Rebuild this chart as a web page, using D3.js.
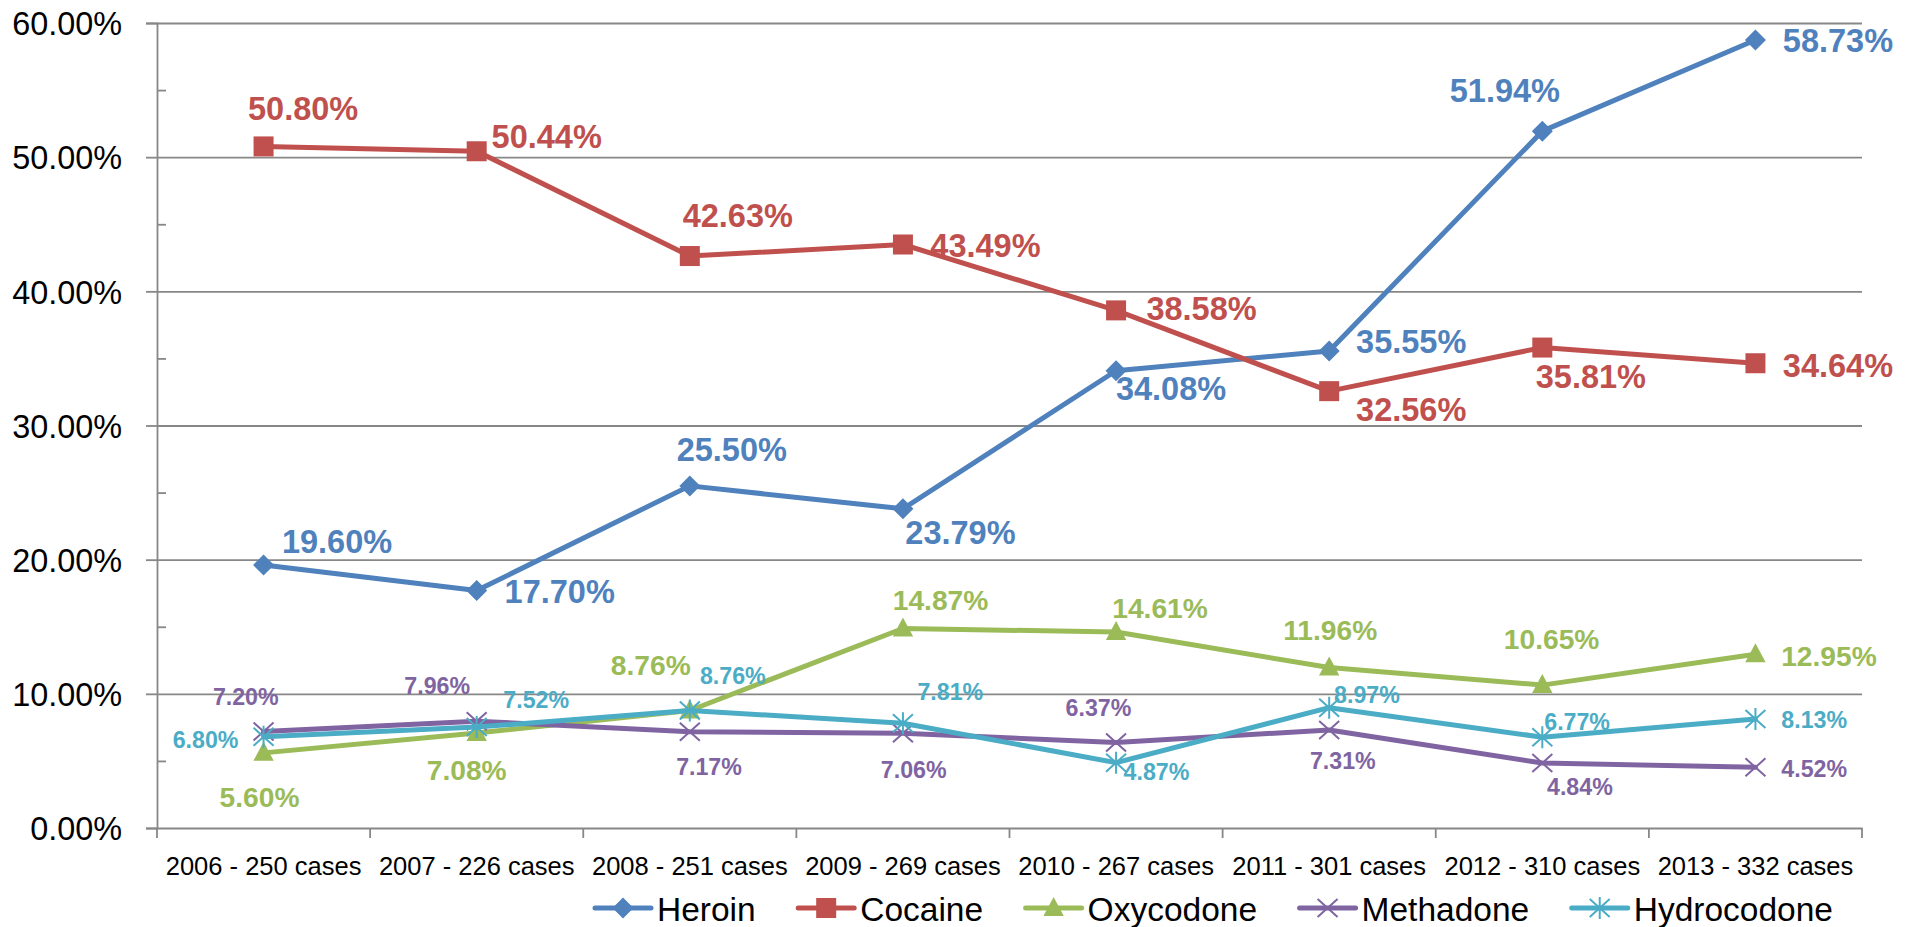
<!DOCTYPE html>
<html>
<head>
<meta charset="utf-8">
<script src="https://cdn.jsdelivr.net/npm/d3@7"></script>
<style>
  html, body { margin: 0; padding: 0; background: #fff; }
  svg { display: block; }
  text { font-family: "Liberation Sans", Arial, sans-serif; }
</style>
</head>
<body>
<svg id="chart" width="1914" height="927"></svg>
<script>
// ---------- data ----------
const categories = ["2006 - 250 cases", "2007 - 226 cases", "2008 - 251 cases", "2009 - 269 cases",
                    "2010 - 267 cases", "2011 - 301 cases", "2012 - 310 cases", "2013 - 332 cases"];
const seriesNames = ["Heroin", "Cocaine", "Oxycodone", "Methadone", "Hydrocodone"];
const heroin      = [19.60, 17.70, 25.50, 23.79, 34.08, 35.55, 51.94, 58.73];
const cocaine     = [50.80, 50.44, 42.63, 43.49, 38.58, 32.56, 35.81, 34.64];
const oxycodone   = [5.60, 7.08, 8.76, 14.87, 14.61, 11.96, 10.65, 12.95];
const methadone   = [7.20, 7.96, 7.17, 7.06, 6.37, 7.31, 4.84, 4.52];
const hydrocodone = [6.80, 7.52, 8.76, 7.81, 4.87, 8.97, 6.77, 8.13];
const yTicks      = [0, 10, 20, 30, 40, 50, 60];
const yMinorTicks = [5, 15, 25, 35, 45, 55];

// ---------- layout (label placement relative to its point, px) ----------
const heroinLabelOffsets      = [[73.5,-23.5],[83,0.5],[42,-37],[57.5,23],[55,17.5],[82,-10],[-37.4,-41],[82.5,0]];
const cocaineLabelOffsets     = [[39.6,-38],[70,-15],[48,-41],[82.5,1],[85.5,-2.5],[82,18],[48.6,28.5],[82.5,2]];
const oxycodoneLabelOffsets   = [[-4,44],[-10,37],[-39,-46],[37.6,-28.5],[44,-24],[1,-37.5],[9.3,-46],[73.5,2]];
const methadoneLabelOffsets   = [[-17.8,-35],[-39.5,-36],[19.2,35],[10.8,36.7],[-17.6,-34.5],[13.6,30.6],[37.6,23.6],[58.8,1]];
const hydrocodoneLabelOffsets = [[-58,2.5],[59.5,-27],[43,-35],[47.4,-32],[40.4,9],[37.8,-13],[34.8,-15.5],[58.8,1]];

const series = [
  { name: seriesNames[0], values: heroin,      color: "#4F81BD", marker: "diamond",  offsets: heroinLabelOffsets,      labelSize: 32.5 },
  { name: seriesNames[1], values: cocaine,     color: "#C0504D", marker: "square",   offsets: cocaineLabelOffsets,     labelSize: 32.5 },
  { name: seriesNames[2], values: oxycodone,   color: "#9BBB59", marker: "triangle", offsets: oxycodoneLabelOffsets,   labelSize: 28.2 },
  { name: seriesNames[3], values: methadone,   color: "#8064A2", marker: "x",        offsets: methadoneLabelOffsets,   labelSize: 23.2 },
  { name: seriesNames[4], values: hydrocodone, color: "#4BACC6", marker: "star",     offsets: hydrocodoneLabelOffsets, labelSize: 23.2 }
];

// ---------- scales ----------
const plotLeft = 157, plotRight = 1862, plotTop = 23, plotBottom = 828;
const x = d3.scaleBand().domain(categories).range([plotLeft, plotRight]);
const cx = c => x(c) + x.bandwidth() / 2;
const y = d3.scaleLinear().domain([0, 60]).range([plotBottom, plotTop]);
const gridColor = "#878787";
const FONT = "'Liberation Sans', Arial, sans-serif";

const svg = d3.select("#chart");
svg.append("rect").attr("width", 1914).attr("height", 927).attr("fill", "#fff");

// gridlines
svg.append("g")
  .attr("transform", `translate(${plotLeft},0)`)
  .call(d3.axisLeft(y).tickValues(yTicks.filter(d => d > 0)).tickSize(-(plotRight - plotLeft)).tickFormat(""))
  .call(g => g.select(".domain").remove())
  .call(g => g.selectAll("line").attr("stroke", gridColor).attr("stroke-width", 1.8));

// y axis (major ticks outside, labels)
svg.append("g")
  .attr("transform", `translate(${plotLeft},0)`)
  .call(d3.axisLeft(y).tickValues(yTicks).tickSize(11).tickPadding(24).tickFormat(d => d.toFixed(2) + "%"))
  .call(g => g.select(".domain").attr("stroke", gridColor).attr("stroke-width", 1.8))
  .call(g => g.selectAll("line").attr("stroke", gridColor).attr("stroke-width", 1.8))
  .call(g => g.selectAll("text").attr("font-size", 32.4).attr("fill", "#000")
              .attr("font-family", FONT).attr("dy", "0.36em"));

// y minor ticks (inside)
svg.append("g")
  .attr("transform", `translate(${plotLeft},0)`)
  .call(d3.axisRight(y).tickValues(yMinorTicks).tickSize(9).tickFormat(""))
  .call(g => g.select(".domain").remove())
  .call(g => g.selectAll("line").attr("stroke", gridColor).attr("stroke-width", 1.8));

// x axis line + labels
svg.append("g")
  .attr("transform", `translate(0,${plotBottom})`)
  .call(d3.axisBottom(x).tickSize(0).tickPadding(47))
  .call(g => g.select(".domain").attr("stroke", gridColor).attr("stroke-width", 1.8))
  .call(g => g.selectAll("text").attr("font-size", 25.5).attr("fill", "#000")
              .attr("font-family", FONT).attr("dy", "0"));

// x ticks at category boundaries
const boundaries = categories.map(c => x(c)).concat([x.range()[1]]);
svg.append("g").selectAll("line").data(boundaries).join("line")
  .attr("x1", d => d).attr("x2", d => d)
  .attr("y1", plotBottom).attr("y2", plotBottom + 10)
  .attr("stroke", gridColor).attr("stroke-width", 1.8);

// marker drawing
function drawMarker(g, type, color, px, py) {
  if (type === "diamond") {
    g.append("path").attr("d", `M${px},${py-10.5}L${px+10.5},${py}L${px},${py+10.5}L${px-10.5},${py}Z`).attr("fill", color);
  } else if (type === "square") {
    g.append("rect").attr("x", px - 10).attr("y", py - 10).attr("width", 20).attr("height", 20).attr("fill", color);
  } else if (type === "triangle") {
    g.append("path").attr("d", `M${px},${py-11}L${px+10.2},${py+8}L${px-10.2},${py+8}Z`).attr("fill", color);
  } else if (type === "x") {
    g.append("path").attr("d", `M${px-10},${py-9}L${px+10},${py+9}M${px-10},${py+9}L${px+10},${py-9}`)
      .attr("stroke", color).attr("stroke-width", 2).attr("fill", "none");
  } else if (type === "star") {
    g.append("path").attr("d", `M${px-10},${py-9}L${px+10},${py+9}M${px-10},${py+9}L${px+10},${py-9}M${px},${py-11}L${px},${py+11}`)
      .attr("stroke", color).attr("stroke-width", 2).attr("fill", "none");
  }
}

// series lines + markers
const line = d3.line().x((d, i) => cx(categories[i])).y(d => y(d));
series.forEach(s => {
  const g = svg.append("g");
  g.append("path").datum(s.values).attr("d", line)
    .attr("fill", "none").attr("stroke", s.color).attr("stroke-width", 5)
    .attr("stroke-linejoin", "round").attr("stroke-linecap", "round");
  s.values.forEach((v, i) => drawMarker(g, s.marker, s.color, cx(categories[i]), y(v)));
});

// data labels
series.forEach(s => {
  svg.append("g").selectAll("text").data(s.values).join("text")
    .attr("x", (d, i) => cx(categories[i]) + s.offsets[i][0])
    .attr("y", (d, i) => y(d) + s.offsets[i][1])
    .attr("dy", "0.36em")
    .attr("text-anchor", "middle")
    .attr("font-weight", "bold")
    .attr("font-size", s.labelSize)
    .attr("fill", s.color)
    .text(d => d.toFixed(2) + "%");
});

// legend
const legend = svg.append("g");
let lx = 595;
const ly = 908;
series.forEach(s => {
  const g = legend.append("g");
  g.append("line").attr("x1", lx).attr("x2", lx + 56).attr("y1", ly).attr("y2", ly)
    .attr("stroke", s.color).attr("stroke-width", 5).attr("stroke-linecap", "round");
  drawMarker(g, s.marker, s.color, lx + 28, ly);
  const t = g.append("text").attr("x", lx + 62).attr("y", ly + 12.5)
    .attr("font-size", 33.5).attr("fill", "#000").text(s.name);
  lx += 62 + t.node().getComputedTextLength() + 42.5;
});
</script>
</body>
</html>
